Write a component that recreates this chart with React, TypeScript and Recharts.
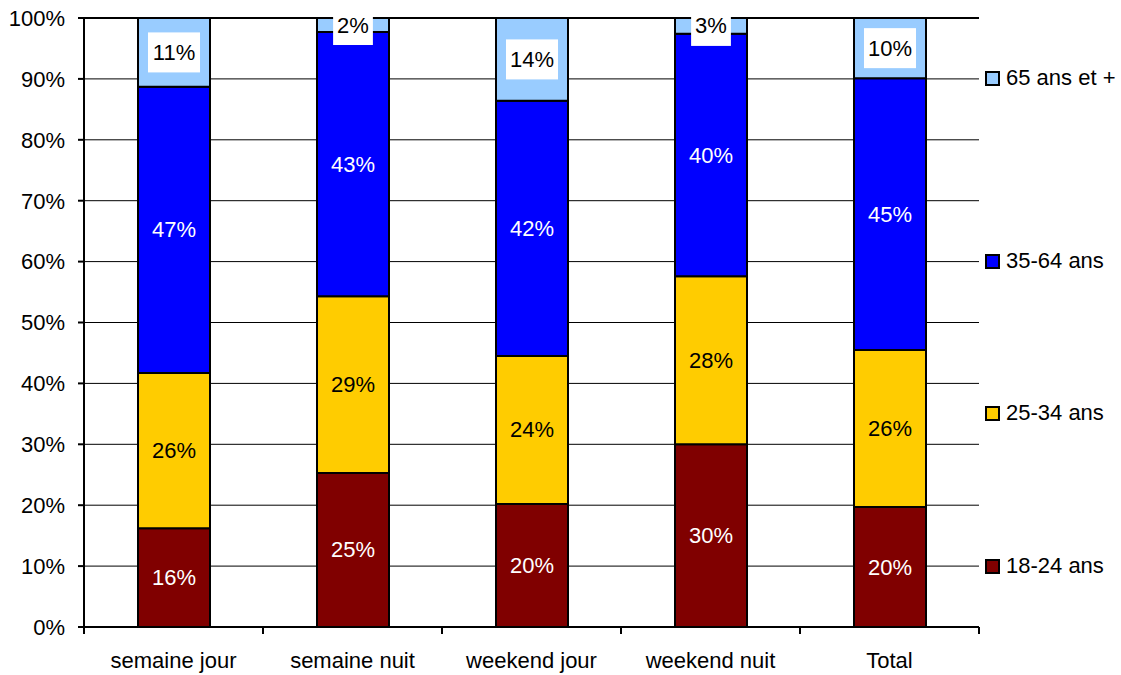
import React from 'react';
import {
  BarChart,
  Bar,
  XAxis,
  YAxis,
  CartesianGrid,
  ReferenceLine,
  LabelList,
} from 'recharts';

// Age-group shares (percent) for each period
const categories = ['semaine jour', 'semaine nuit', 'weekend jour', 'weekend nuit', 'Total'];
const age18_24 = [16.2, 25.3, 20.2, 30.0, 19.7];
const age25_34 = [25.5, 29.0, 24.3, 27.6, 25.8];
const age35_64 = [47.0, 43.4, 41.9, 39.8, 44.6];
const age65plus = [11.3, 2.3, 13.6, 2.6, 9.9];
const yTicks = [0, 10, 20, 30, 40, 50, 60, 70, 80, 90, 100];

const series = [
  { key: 'a18', name: '18-24 ans', values: age18_24, color: '#800000', labelColor: '#ffffff', boxed: false },
  { key: 'a25', name: '25-34 ans', values: age25_34, color: '#FFCC00', labelColor: '#000000', boxed: false },
  { key: 'a35', name: '35-64 ans', values: age35_64, color: '#0000FF', labelColor: '#ffffff', boxed: false },
  { key: 'a65', name: '65 ans et +', values: age65plus, color: '#99CCFF', labelColor: '#000000', boxed: true },
];

const data = categories.map((c, i) => {
  const row: Record<string, string | number> = { cat: c };
  series.forEach((s) => {
    row[s.key] = s.values[i];
  });
  return row;
});

const W = 1121;
const H = 675;
const MARGIN = { top: 18, right: 142, bottom: 0, left: 0 };
const Y_AXIS_W = 84;
const X_AXIS_H = 48;
const PLOT_TOP = MARGIN.top;
const PLOT_W = W - MARGIN.left - MARGIN.right - Y_AXIS_W;
const SLOT = PLOT_W / categories.length;
const FONT = 'Liberation Sans, Arial, Helvetica, sans-serif';
const FS = 22;

// vertical centres of the legend entries, top to bottom
const legendY = [78, 261, 413, 566];

// rough text width for "NN%" strings in the chart font
const textWidth = (s: string) =>
  s.split('').reduce((w, ch) => w + (ch === '%' ? 0.889 : 0.556) * FS, 0);

const makeLabel = (color: string, boxed: boolean) => (props: any) => {
  const { x, y, width, height, value } = props;
  if (value == null) return null;
  const txt = `${Math.round(Number(value))}%`;
  const cx = Number(x) + Number(width) / 2;
  const cy = Number(y) + Number(height) / 2;
  const tw = textWidth(txt) + 8;
  const top = Math.max(cy - 20, PLOT_TOP - 1);
  const bottom = cy + 20;
  return (
    <g>
      {boxed && <rect x={cx - tw / 2} y={top} width={tw} height={bottom - top} fill="#ffffff" />}
      <text
        x={cx}
        y={cy}
        textAnchor="middle"
        dominantBaseline="central"
        fontSize={FS}
        fontFamily={FONT}
        fill={color}
      >
        {txt}
      </text>
    </g>
  );
};

const XTick = (props: any) => {
  const { x, y, payload, index } = props;
  const left = x - SLOT / 2;
  return (
    <g>
      <line x1={left} y1={y} x2={left} y2={y + 7} stroke="#000" strokeWidth={2} />
      {index === categories.length - 1 && (
        <line x1={x + SLOT / 2} y1={y} x2={x + SLOT / 2} y2={y + 7} stroke="#000" strokeWidth={2} />
      )}
      <text x={x} y={y + 41} textAnchor="middle" fontSize={FS} fontFamily={FONT} fill="#000">
        {payload.value}
      </text>
    </g>
  );
};

export default function App() {
  const legendItems = [...series].reverse();
  return (
    <div style={{ position: 'absolute', left: 0, top: 0, width: W, height: H, background: '#fff', fontFamily: FONT }}>
      <BarChart width={W} height={H} data={data} margin={MARGIN} barSize={72}>
        <CartesianGrid vertical={false} stroke="#000" strokeWidth={1} />
        <XAxis
          dataKey="cat"
          height={X_AXIS_H}
          axisLine={{ stroke: '#000', strokeWidth: 2 }}
          tickLine={false}
          tickSize={0}
          tickMargin={0}
          tick={<XTick />}
          interval={0}
        />
        <YAxis
          width={Y_AXIS_W}
          domain={[0, 100]}
          ticks={yTicks}
          tickFormatter={(v: number) => `${v}%`}
          axisLine={{ stroke: '#000', strokeWidth: 2 }}
          tickLine={{ stroke: '#000', strokeWidth: 2 }}
          tickSize={6}
          tickMargin={13}
          tick={{ fill: '#000', fontSize: FS, fontFamily: FONT }}
          interval={0}
        />
        <ReferenceLine y={100} stroke="#000" strokeWidth={2} />
        {series.map((s) => (
          <Bar
            key={s.key}
            dataKey={s.key}
            name={s.name}
            stackId="age"
            fill={s.color}
            stroke="#000"
            strokeWidth={2}
            isAnimationActive={false}
          >
            <LabelList dataKey={s.key} content={makeLabel(s.labelColor, s.boxed)} />
          </Bar>
        ))}
      </BarChart>
      {legendItems.map((s, i) => (
        <div
          key={s.key}
          style={{
            position: 'absolute',
            left: 985,
            top: legendY[i] - 13,
            height: 26,
            display: 'flex',
            alignItems: 'center',
            fontSize: FS,
            color: '#000',
            whiteSpace: 'nowrap',
          }}
        >
          <span
            style={{
              display: 'inline-block',
              width: 11,
              height: 11,
              background: s.color,
              border: '2px solid #000',
              marginRight: 6,
            }}
          />
          {s.name}
        </div>
      ))}
    </div>
  );
}
